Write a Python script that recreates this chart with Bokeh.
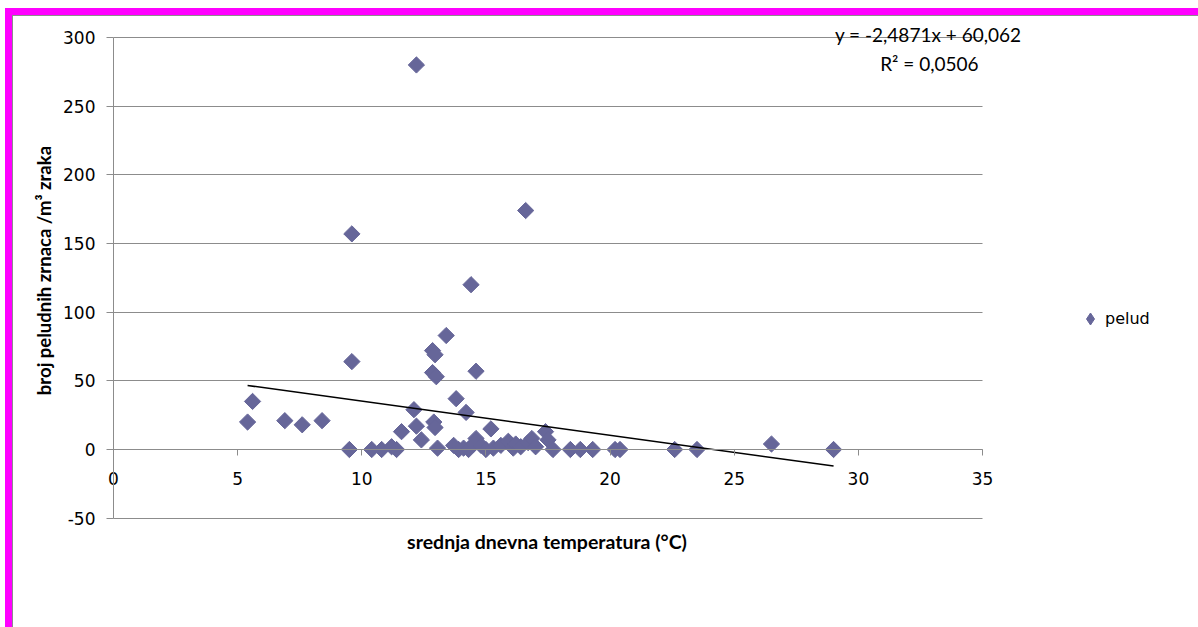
import numpy as np
from bokeh.plotting import figure
from bokeh.models import (ColumnDataSource, CDSView, IndexFilter, Label, Legend,
                          LegendItem, FixedTicker, Range1d, PrintfTickFormatter)
from bokeh.embed import file_html
from bokeh.resources import INLINE

# daily mean temperature (°C) and pollen count per m³ of air
temperature = [5.4, 5.6, 6.9, 7.6, 8.4,
               9.6, 9.6, 9.5,
               10.4, 10.8, 11.2, 11.4, 11.6, 12.1, 12.2, 12.2, 12.4,
               12.85, 12.95, 12.85, 13.0, 12.9, 12.95, 13.05,
               13.4, 13.8, 13.7, 13.9, 14.2, 14.4, 14.6,
               14.1, 14.3, 14.5, 14.6, 14.8, 15.0, 15.2, 15.3, 15.6, 15.9,
               16.1, 16.2, 16.4, 16.6, 16.7, 16.85, 17.0,
               17.4, 17.5, 17.7, 18.4, 18.8, 19.3, 20.2, 20.4,
               22.6, 23.5, 26.5, 29.0]
pollen = [20, 35, 21, 18, 21,
          157, 64, 0,
          0, 0, 2, 0, 13, 29, 280, 17, 7,
          72, 69, 56, 53, 20, 16, 1,
          83, 37, 3, 0, 27, 120, 57,
          1, 0, 4, 8, 3, 0, 15, 1, 3, 6,
          1, 4, 2, 174, 5, 8, 2,
          13, 7, 0, 0, 0, 0, 0, 0,
          0, 0, 4, 0]

# linear trend as reported for the series
slope = -2.4871
intercept = 60.062
r_squared = 0.0506

x_ticks = [0, 5, 10, 15, 20, 25, 30, 35]
y_ticks = [-50, 0, 50, 100, 150, 200, 250, 300]

series_name = "pelud"
x_title = "srednja dnevna temperatura (°C)"
y_title = "broj peludnih zrnaca /m³ zraka"

GRID = "#8c8c8c"
MARK = "#666699"
TICK_FONT = "DejaVu Sans"
TITLE_FONT = "Lato"

x_lo, x_hi = x_ticks[0], x_ticks[-1]
y_lo, y_hi = y_ticks[0], y_ticks[-1]

# the frame spans the whole canvas; axes are pinned at x = 0 and y = 0,
# leaving room around the plotted area for titles, legend and equation
p = figure(width=1185, height=611,
           x_range=Range1d(-4.0275, 43.698), y_range=Range1d(-129.61, 315.29),
           output_backend="svg", toolbar_location=None,
           min_border=0, min_border_left=0, min_border_right=0,
           min_border_top=0, min_border_bottom=0,
           background_fill_color="white", border_fill_color="white")
p.margin = (16, 0, 0, 13)
p.styles = {"outline": "7px solid #ff00ff", "outline-offset": "1px",
            "box-shadow": "0 0 0 1px #8c8c8c"}
p.outline_line_color = None

# horizontal grid only, limited to the plotted area
p.xgrid.visible = False
p.ygrid.ticker = FixedTicker(ticks=y_ticks)
p.ygrid.bounds = (y_lo, y_hi)
p.ygrid.cross_bounds = (x_lo, x_hi)
p.ygrid.grid_line_color = GRID
p.ygrid.grid_line_width = 1

# y axis along x = 0
ya = p.yaxis[0]
ya.fixed_location = 0
ya.bounds = (y_lo, y_hi)
ya.ticker = FixedTicker(ticks=y_ticks)
ya.formatter = PrintfTickFormatter(format="%d")
ya.axis_line_color = GRID
ya.major_tick_line_color = GRID
ya.major_tick_in = 0
ya.major_tick_out = 7
ya.minor_tick_line_color = None
ya.major_label_standoff = 11
ya.major_label_text_font = TICK_FONT
ya.major_label_text_font_size = "17px"
ya.major_label_text_color = "black"

# x axis along y = 0
xa = p.xaxis[0]
xa.fixed_location = 0
xa.bounds = (x_lo, x_hi)
xa.ticker = FixedTicker(ticks=x_ticks)
xa.formatter = PrintfTickFormatter(format="%d")
xa.axis_line_color = GRID
xa.major_tick_line_color = GRID
xa.major_tick_in = 0
xa.major_tick_out = 6
xa.minor_tick_line_color = None
xa.major_label_standoff = 16
xa.major_label_text_font = TICK_FONT
xa.major_label_text_font_size = "17px"
xa.major_label_text_color = "black"

src = ColumnDataSource(dict(temperature=temperature, pollen=pollen))

# legend key: an upright diamond in the series colours; it only shows one
# tiny point, which the series markers drawn afterwards cover
key = p.scatter(x="temperature", y="pollen", source=src,
                view=CDSView(filter=IndexFilter(indices=[0])),
                marker="diamond", size=4, fill_color=MARK, line_color=MARK)

pts = p.scatter(x="temperature", y="pollen", source=src, marker="square",
                angle=np.pi / 4, size=11.5, fill_color=MARK, line_color=MARK)

x0, x1 = min(temperature), max(temperature)
p.line(x=[x0, x1], y=[slope * x0 + intercept, slope * x1 + intercept],
       line_color="black", line_width=1.5)

def fmt(v, nd):
    return f"{v:.{nd}f}".replace(".", ",")

eq_text = f"y = {fmt(slope, 4)}x + {fmt(intercept, 3)}"
r2_text = f"R² = {fmt(r_squared, 4)}"

p.add_layout(Label(x=36.57, y=302.0, text=eq_text, text_align="right",
                   text_baseline="middle", text_font=TITLE_FONT,
                   text_font_size="19px", text_color="black"))
p.add_layout(Label(x=34.84, y=281.1, text=r2_text, text_align="right",
                   text_baseline="middle", text_font=TITLE_FONT,
                   text_font_size="19px", text_color="black"))

# axis titles
p.add_layout(Label(x=17.46, y=-67.0, text=x_title,
                   text_align="center", text_baseline="middle",
                   text_font=TITLE_FONT, text_font_style="bold",
                   text_font_size="19.5px", text_color="black"))
p.add_layout(Label(x=-2.78, y=130.3, text=y_title, angle=np.pi / 2,
                   text_align="center", text_baseline="middle",
                   text_font=TITLE_FONT, text_font_style="bold",
                   text_font_size="18.5px", text_color="black"))

legend = Legend(items=[LegendItem(label=series_name, renderers=[key])],
                location=(1062, 291), orientation="vertical",
                border_line_color=None, background_fill_alpha=0,
                padding=0, margin=0, spacing=0,
                glyph_width=30, glyph_height=35, label_height=35,
                label_standoff=0,
                label_text_font=TICK_FONT, label_text_font_size="16px",
                label_text_color="black")
p.add_layout(legend)

open("out.html", "w").write(file_html(p, INLINE))
